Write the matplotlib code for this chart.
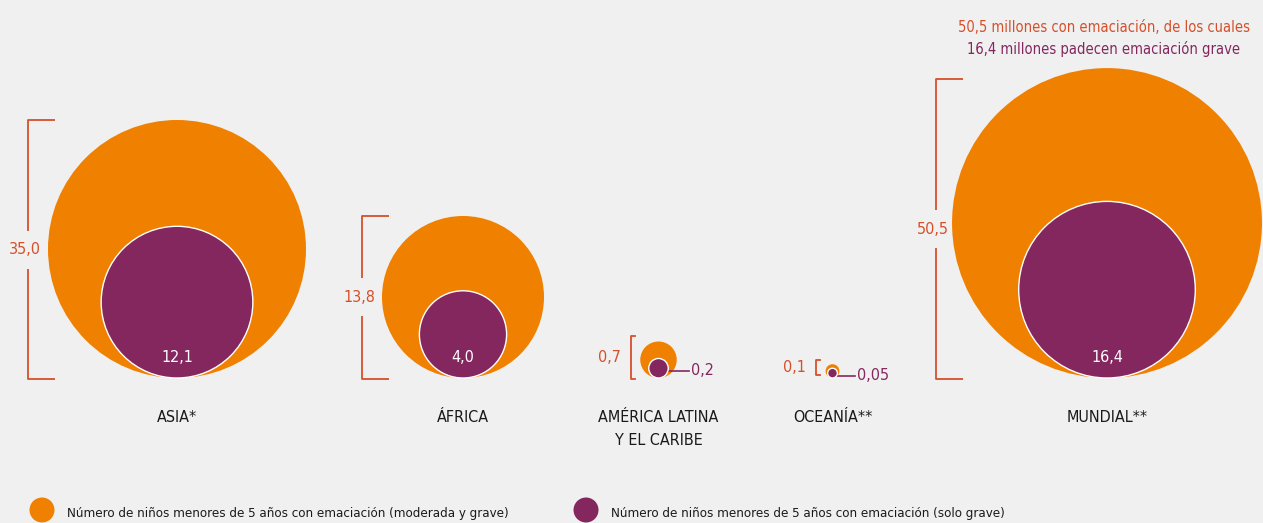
import matplotlib
matplotlib.use("Agg")
import matplotlib.pyplot as plt
from matplotlib.patches import Circle
import numpy as np

# ---- data ----
regions = ["ASIA*", "ÁFRICA", "AMÉRICA LATINA\nY EL CARIBE", "OCEANÍA**", "MUNDIAL**"]
total_wasting = [35.0, 13.8, 0.7, 0.1, 50.5]        # moderada y grave (millones)
severe_wasting = [12.1, 4.0, 0.2, 0.05, 16.4]        # solo grave (millones)
total_labels = ["35,0", "13,8", "0,7", "0,1", "50,5"]
severe_labels = ["12,1", "4,0", "0,2", "0,05", "16,4"]
legend_labels = ["Número de niños menores de 5 años con emaciación (moderada y grave)",
                 "Número de niños menores de 5 años con emaciación (solo grave)"]
title_lines = ["50,5 millones con emaciación, de los cuales",
               "16,4 millones padecen emaciación grave"]

# ---- layout / style ----
W, H = 1263, 523
BG = "#f0f0f0"
ORANGE = "#f08000"
PURPLE = "#84275f"
RED = "#d5502a"
DARK = "#1a1a1a"
centers_x = [177, 463, 658.5, 832.5, 1107]
baseline = 378
scale = 129.0 / np.sqrt(35.0)   # radius in px per sqrt(million)

FONT = dict(family=["DejaVu Sans"], stretch="condensed")

fig = plt.figure(figsize=(W / 100, H / 100), dpi=100, facecolor=BG)
ax = fig.add_axes([0, 0, 1, 1])
ax.set_facecolor(BG)
ax.set_xlim(0, W)
ax.set_ylim(H, 0)
ax.set_aspect("equal")
ax.axis("off")

VAL_FS = 11.5
for i, (cx, tot, sev) in enumerate(zip(centers_x, total_wasting, severe_wasting)):
    R = scale * np.sqrt(tot)
    r = scale * np.sqrt(sev)
    ax.add_patch(Circle((cx, baseline - R), R, facecolor=ORANGE, edgecolor="none", zorder=2))
    ax.add_patch(Circle((cx, baseline - r), r, facecolor=PURPLE, edgecolor="white",
                        linewidth=1.0, zorder=3))

    big = R > 40
    if big:
        bx = cx - R - 20 if i != 4 else cx - R - 16
        tick = 27
        top = baseline - 2 * R
        if i == 4:
            top = baseline - 2 * R + 11
        bottom = baseline + 1
        mid = (top + bottom) / 2
        gap = 19
        ax.plot([bx + tick, bx, bx], [top, top, mid - gap], color=RED, lw=1.3, zorder=2,
                solid_capstyle="butt")
        ax.plot([bx, bx, bx + tick], [mid + gap, bottom, bottom], color=RED, lw=1.3, zorder=2,
                solid_capstyle="butt")
        ax.text(bx - 3, mid, total_labels[i], color=RED, fontsize=VAL_FS, ha="center",
                va="center", **FONT, zorder=4)
        ax.text(cx, baseline - 21, severe_labels[i], color="white", fontsize=VAL_FS,
                ha="center", va="center", **FONT, zorder=4)
    else:
        bx = cx - R - 9 if i == 2 else cx - R - 10
        tick = 4
        top = baseline - 2 * R - (6 if i == 2 else 4)
        bottom = baseline + 1 if i == 2 else baseline - 3
        ax.plot([bx + tick, bx, bx, bx + tick], [top, top, bottom, bottom], color=RED, lw=1.3,
                zorder=2)
        ax.text(bx - 10, (top + bottom) / 2, total_labels[i], color=RED, fontsize=VAL_FS,
                ha="right", va="center", **FONT, zorder=4)
        ly = baseline - r + 3
        x0 = cx + r - 1
        x1 = cx + (30 if i == 2 else 22)
        ax.plot([x0, x1], [ly, ly], color=PURPLE, lw=1.2, zorder=2)
        ax.text(x1 + 2, ly - 0.5, severe_labels[i], color=PURPLE, fontsize=VAL_FS,
                ha="left", va="center", **FONT, zorder=4)

    ax.text(cx, 410, regions[i], color=DARK, fontsize=11.5, ha="center", va="top",
            linespacing=1.65, **FONT)

ax.text(1104, 28, title_lines[0], color=RED, fontsize=10.5, ha="center", va="center", **FONT)
ax.text(1104, 49, title_lines[1], color=PURPLE, fontsize=10.5, ha="center", va="center", **FONT)

for (lx, col, lab) in [(42, ORANGE, legend_labels[0]), (586, PURPLE, legend_labels[1])]:
    ax.add_patch(Circle((lx, 510), 12.5, facecolor=col, edgecolor="none"))
    ax.text(lx + 25, 513, lab, color=DARK, fontsize=9.5, ha="left", va="center", **FONT)

fig.savefig("out.png", dpi=100, facecolor=BG)
